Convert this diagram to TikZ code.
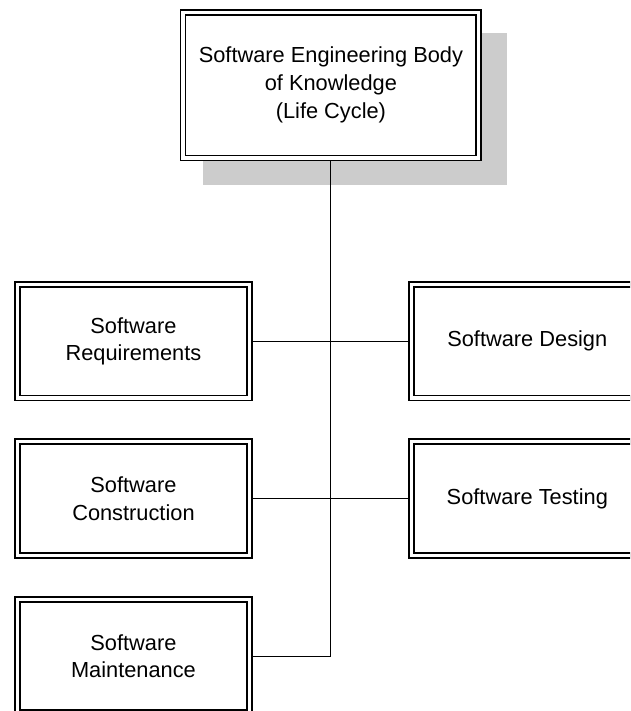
\documentclass[tikz,border=0pt]{standalone}
\usepackage{fontspec}
\setmainfont{Liberation Sans}
\begin{document}
\begin{tikzpicture}[x=1pt,y=-1pt,
  kabox/.style={draw=black, double=white, double distance=3.2pt, line width=1.8pt,
    fill=white, outer sep=3.4pt, inner sep=0pt, align=center,
    font=\fontsize{21.8}{27.5}\selectfont,
    minimum width=232pt, minimum height=113.5pt},
  link/.style={draw=black, line width=0.9pt},
  shadowfill/.style={fill=black!20, draw=none}]
\useasboundingbox (0,0) rectangle (630,711);
\clip (0,0) rectangle (630,711);
% shadow of the top box
\path[shadowfill] (203,33) rectangle (506.5,185);
% nodes
\node[kabox, minimum width=295.8pt, minimum height=145.5pt,
  font=\fontsize{21.8}{28}\selectfont] (top) at (330.9,85.25)
  {Software Engineering Body\\of Knowledge\\(Life Cycle)};
\node[kabox] (req) at (133.45,341.25) {Software\\Requirements};
\node[kabox] (cons) at (133.45,498.6) {Software\\Construction};
\node[kabox] (maint) at (133.45,656) {Software\\Maintenance};
\node[kabox] (design) at (527.3,341.25) {Software Design};
\node[kabox] (test) at (527.3,498.6) {Software Testing};
% connectors
\draw[link] (top.south) -- (top.south |- maint.east) -- (maint.east);
\draw[link] (req.east) -- (design.west);
\draw[link] (cons.east) -- (test.west);
\end{tikzpicture}
\end{document}
